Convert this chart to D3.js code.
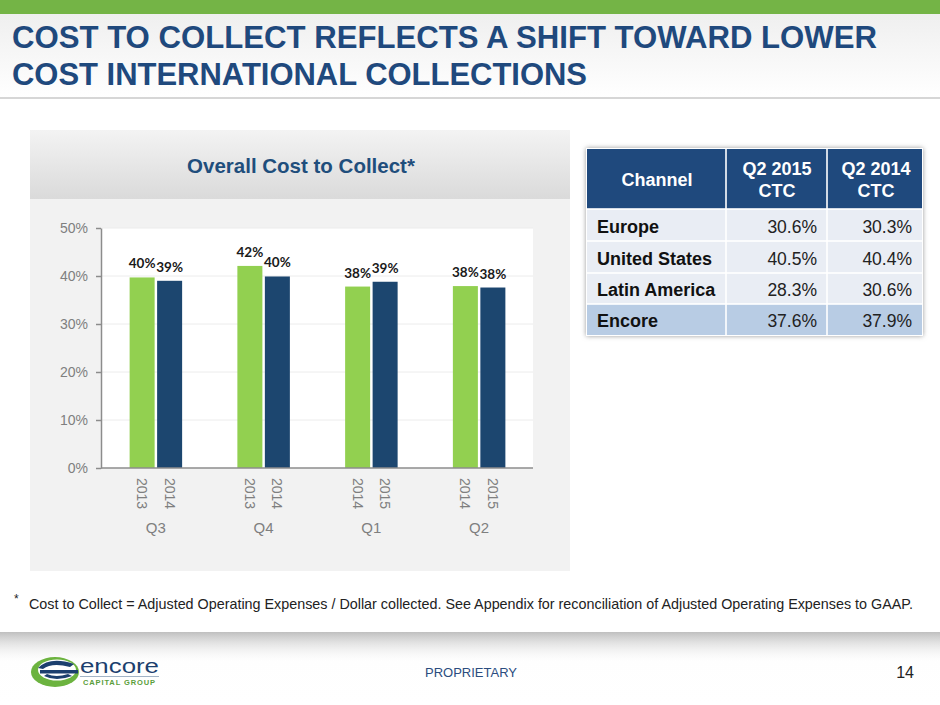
<!DOCTYPE html>
<html>
<head>
<meta charset="utf-8">
<script src="https://cdn.jsdelivr.net/npm/d3@7"></script>
<style>
  body { margin: 0; background: #ffffff; }
  svg { display: block; font-family: "Liberation Sans", Arial, Helvetica, sans-serif; }
</style>
</head>
<body>
<div id="slide"></div>
<script>
// Chart data
const quarters = ["Q3", "Q4", "Q1", "Q2"];
const earlierYears = ["2013", "2013", "2014", "2014"];
const laterYears = ["2014", "2014", "2015", "2015"];
const earlierValues = [39.7, 42.1, 37.8, 37.9];
const laterValues = [39.0, 39.9, 38.8, 37.6];
const yTicks = [0, 10, 20, 30, 40, 50];

// Table data
const tableHeaders = ["Channel", "Q2 2015\nCTC", "Q2 2014\nCTC"];
const channels = ["Europe", "United States", "Latin America", "Encore"];
const ctc2015 = [30.6, 40.5, 28.3, 37.6];
const ctc2014 = [30.3, 40.4, 30.6, 37.9];

const titleLines = ["COST TO COLLECT REFLECTS A SHIFT TOWARD LOWER", "COST INTERNATIONAL COLLECTIONS"];
const footnote = "Cost to Collect = Adjusted Operating Expenses / Dollar collected. See Appendix for reconciliation of Adjusted Operating Expenses to GAAP.";

const navy = "#1f497d";
const greenBar = "#92d050";
const blueBar = "#1c466f";

const W = 940, H = 705;
const svg = d3.select("#slide").append("svg").attr("width", W).attr("height", H);
const defs = svg.append("defs");

function vGrad(id, stops) {
    const g = defs.append("linearGradient").attr("id", id)
        .attr("x1", 0).attr("y1", 0).attr("x2", 0).attr("y2", 1);
    stops.forEach(s => g.append("stop").attr("offset", s[0]).attr("stop-color", s[1]).attr("stop-opacity", s[2] == null ? 1 : s[2]));
}
vGrad("titleBg", [[0, "#efefef"], [1, "#ffffff"]]);
vGrad("panelHead", [[0, "#f3f3f3"], [1, "#dadada"]]);
vGrad("shadow", [[0, "#b8b8b8", 0.9], [1, "#f4f4f4", 0]]);
vGrad("footerBg", [[0, "#f0f0f0"], [1, "#ffffff"]]);

const blur = defs.append("filter").attr("id", "soft").attr("x", "-10%").attr("y", "-10%").attr("width", "120%").attr("height", "120%");
blur.append("feGaussianBlur").attr("stdDeviation", 2.5);

// ---- Slide chrome ----
svg.append("rect").attr("x", 0).attr("y", 0).attr("width", W).attr("height", H).attr("fill", "url(#footerBg)");
svg.append("rect").attr("x", 0).attr("y", 14).attr("width", W).attr("height", 84).attr("fill", "url(#titleBg)");
svg.append("rect").attr("x", 0).attr("y", 0).attr("width", W).attr("height", 14).attr("fill", "#74b446");
svg.append("rect").attr("x", 0).attr("y", 97).attr("width", W).attr("height", 2).attr("fill", "#d6d6d6");
svg.append("rect").attr("x", 0).attr("y", 632).attr("width", W).attr("height", 30).attr("fill", "url(#shadow)");
svg.append("rect").attr("x", 0).attr("y", 99).attr("width", W).attr("height", 533).attr("fill", "#ffffff");

svg.selectAll(".title").data(titleLines).enter().append("text")
    .attr("class", "title")
    .attr("x", 12)
    .attr("y", (d, i) => 48 + i * 37)
    .attr("fill", navy)
    .attr("font-size", 31)
    .attr("font-weight", "bold")
    .attr("textLength", (d, i) => i === 0 ? 865 : 575)
    .attr("lengthAdjust", "spacingAndGlyphs")
    .text(d => d);

// ---- Chart panel ----
const panel = { x: 30, y: 130, w: 540, h: 441 };
svg.append("rect").attr("x", panel.x).attr("y", panel.y).attr("width", panel.w).attr("height", panel.h).attr("fill", "#f2f2f2");
svg.append("rect").attr("x", panel.x).attr("y", panel.y).attr("width", panel.w).attr("height", 69).attr("fill", "url(#panelHead)");
svg.append("text")
    .attr("x", 301).attr("y", 173)
    .attr("text-anchor", "middle")
    .attr("fill", "#1f4e7c")
    .attr("font-size", 20.5)
    .attr("font-weight", "bold")
    .text("Overall Cost to Collect*");

const plot = { left: 102, right: 533, top: 228, bottom: 468 };
svg.append("rect").attr("x", plot.left).attr("y", plot.top)
    .attr("width", plot.right - plot.left).attr("height", plot.bottom - plot.top).attr("fill", "#ffffff");

const y = d3.scaleLinear().domain([0, 50]).range([plot.bottom, plot.top]);
const x0 = d3.scaleBand().domain(quarters).range([plot.left, plot.right]);
const pairWidth = 52.5;
const x1 = d3.scaleBand().domain(["earlier", "later"]).range([0, pairWidth]).paddingInner(0.09);
const groupOffset = (x0.bandwidth() - pairWidth) / 2;

// gridlines
svg.append("g").selectAll("line").data(yTicks.slice(1)).enter().append("line")
    .attr("x1", plot.left).attr("x2", plot.right)
    .attr("y1", d => y(d)).attr("y2", d => y(d))
    .attr("stroke", "#ececec").attr("stroke-width", 1);

// y axis
const yAxis = svg.append("g")
    .attr("transform", `translate(${plot.left - 1},0)`)
    .call(d3.axisLeft(y).tickValues(yTicks).tickFormat(d => d + "%").tickSize(5).tickSizeOuter(0));
yAxis.select(".domain").attr("stroke", "#8c8c8c").attr("stroke-width", 1.5);
yAxis.selectAll(".tick line").attr("stroke", "#8c8c8c").attr("stroke-width", 1.5);
yAxis.selectAll(".tick text")
    .attr("x", -13)
    .attr("fill", "#7f7f7f")
    .attr("font-size", 14)
    .attr("font-family", "Liberation Sans, Arial, sans-serif");

// bars
const rows = quarters.map((q, i) => ({
    quarter: q,
    items: [
        { key: "earlier", year: earlierYears[i], value: earlierValues[i], color: greenBar },
        { key: "later", year: laterYears[i], value: laterValues[i], color: blueBar }
    ]
}));

const groups = svg.append("g").selectAll("g").data(rows).enter().append("g")
    .attr("transform", d => `translate(${x0(d.quarter) + groupOffset},0)`);

groups.selectAll("rect").data(d => d.items).enter().append("rect")
    .attr("x", d => x1(d.key))
    .attr("width", x1.bandwidth())
    .attr("y", d => y(d.value))
    .attr("height", d => y(0) - y(d.value))
    .attr("fill", d => d.color);

groups.selectAll(".val").data(d => d.items).enter().append("text")
    .attr("class", "val")
    .attr("x", d => x1(d.key) + x1.bandwidth() / 2)
    .attr("y", d => y(d.value) - 9)
    .attr("text-anchor", "middle")
    .attr("font-family", "Lato, 'Open Sans', sans-serif")
    .attr("font-weight", "bold")
    .attr("font-size", 13.5)
    .attr("fill", "#1a1a1a")
    .text(d => Math.round(d.value) + "%");

groups.selectAll(".yr").data(d => d.items).enter().append("text")
    .attr("class", "yr")
    .attr("transform", d => `translate(${x1(d.key) + x1.bandwidth() / 2 - 5},${plot.bottom + 10}) rotate(90)`)
    .attr("fill", "#7f7f7f")
    .attr("font-size", 14)
    .text(d => d.year);

// x axis baseline
svg.append("line")
    .attr("x1", plot.left - 1).attr("x2", plot.right)
    .attr("y1", plot.bottom).attr("y2", plot.bottom)
    .attr("stroke", "#8c8c8c").attr("stroke-width", 1.5);

groups.append("text")
    .attr("x", pairWidth / 2)
    .attr("y", 533)
    .attr("text-anchor", "middle")
    .attr("fill", "#7f7f7f")
    .attr("font-size", 15)
    .text(d => d.quarter);

// ---- Table ----
const colEdges = [587, 726, 827, 922];
const rowEdges = [149, 209, 241, 273, 304, 335];

svg.append("rect")
    .attr("x", colEdges[0] - 1).attr("y", rowEdges[0] - 1)
    .attr("width", colEdges[3] - colEdges[0] + 2).attr("height", rowEdges[5] - rowEdges[0] + 2)
    .attr("fill", "#9a9a9a").attr("filter", "url(#soft)");
svg.append("rect")
    .attr("x", colEdges[0] - 1).attr("y", rowEdges[0] - 1)
    .attr("width", colEdges[3] - colEdges[0] + 2).attr("height", rowEdges[5] - rowEdges[0] + 2)
    .attr("fill", "#ffffff");

const table = svg.append("g");
const cells = [];
for (let r = 0; r < 5; r++) {
    for (let c = 0; c < 3; c++) {
        let fill = "#e9edf4";
        if (r === 0) fill = navy;
        else if (r === 4) fill = "#b8cce4";
        cells.push({ r, c, fill });
    }
}
table.selectAll("rect").data(cells).enter().append("rect")
    .attr("x", d => colEdges[d.c] + (d.c ? 0.8 : 0))
    .attr("y", d => rowEdges[d.r] + (d.r ? 0.8 : 0))
    .attr("width", d => colEdges[d.c + 1] - colEdges[d.c] - (d.c ? 0.8 : 0) - (d.c < 2 ? 0.8 : 0))
    .attr("height", d => rowEdges[d.r + 1] - rowEdges[d.r] - (d.r ? 0.8 : 0) - (d.r < 4 ? 0.8 : 0))
    .attr("fill", d => d.fill);

const colCenters = [657, 777, 876];
tableHeaders.forEach((h, c) => {
    const lines = h.split("\n");
    const t = table.append("text")
        .attr("text-anchor", "middle")
        .attr("fill", "#ffffff")
        .attr("font-size", 18)
        .attr("font-weight", "bold");
    lines.forEach((ln, i) => {
        t.append("tspan")
            .attr("x", colCenters[c])
            .attr("y", lines.length === 1 ? 186 : 175 + i * 22)
            .text(ln);
    });
});

const bodyBaselines = [233, 265, 296, 327];
channels.forEach((ch, i) => {
    table.append("text").attr("x", 597).attr("y", bodyBaselines[i])
        .attr("font-size", 18).attr("font-weight", "bold").attr("fill", "#111111")
        .text(ch);
    table.append("text").attr("x", 817).attr("y", bodyBaselines[i])
        .attr("text-anchor", "end").attr("font-size", 17.5).attr("fill", "#222222")
        .text(ctc2015[i].toFixed(1) + "%");
    table.append("text").attr("x", 912).attr("y", bodyBaselines[i])
        .attr("text-anchor", "end").attr("font-size", 17.5).attr("fill", "#222222")
        .text(ctc2014[i].toFixed(1) + "%");
});

// ---- Footnote ----
svg.append("text").attr("x", 14).attr("y", 603).attr("font-size", 12).attr("fill", "#222").text("*");
svg.append("text").attr("x", 29).attr("y", 609)
    .attr("font-size", 14.5).attr("fill", "#222222")
    .attr("textLength", 884).attr("lengthAdjust", "spacingAndGlyphs")
    .text(footnote);

// ---- Footer ----
const logo = svg.append("g");
logo.append("ellipse").attr("cx", 55).attr("cy", 672).attr("rx", 24).attr("ry", 15).attr("fill", "#6cb33f");
logo.append("ellipse").attr("cx", 57).attr("cy", 670).attr("rx", 19).attr("ry", 10.5).attr("fill", "#ffffff");
logo.append("path").attr("d", "M38,668 Q50,656 74,664 L70,667 Q52,662 43,669 Z").attr("fill", "#1c3f6e");
logo.append("rect").attr("x", 40).attr("y", 670).attr("width", 38).attr("height", 3.5).attr("fill", "#1c3f6e");
logo.append("path").attr("d", "M44,676 Q56,682 72,676 L68,674 Q56,678 47,674 Z").attr("fill", "#1c3f6e");
logo.append("text").attr("x", 80).attr("y", 673)
    .attr("font-size", 21).attr("fill", "#1c3f6e")
    .attr("textLength", 79).attr("lengthAdjust", "spacingAndGlyphs")
    .text("encore");
logo.append("line").attr("x1", 80).attr("x2", 159).attr("y1", 676.5).attr("y2", 676.5).attr("stroke", "#8aa0b8").attr("stroke-width", 0.8);
logo.append("text").attr("x", 83).attr("y", 685)
    .attr("font-size", 7.5).attr("font-weight", "bold").attr("fill", "#5a9e3a")
    .attr("textLength", 72).attr("lengthAdjust", "spacing")
    .text("CAPITAL GROUP");

svg.append("text").attr("x", 471).attr("y", 677)
    .attr("text-anchor", "middle").attr("font-size", 13).attr("fill", "#2b4c7e")
    .text("PROPRIETARY");
svg.append("text").attr("x", 914).attr("y", 678)
    .attr("text-anchor", "end").attr("font-size", 16).attr("fill", "#222222")
    .text("14");
</script>
</body>
</html>
